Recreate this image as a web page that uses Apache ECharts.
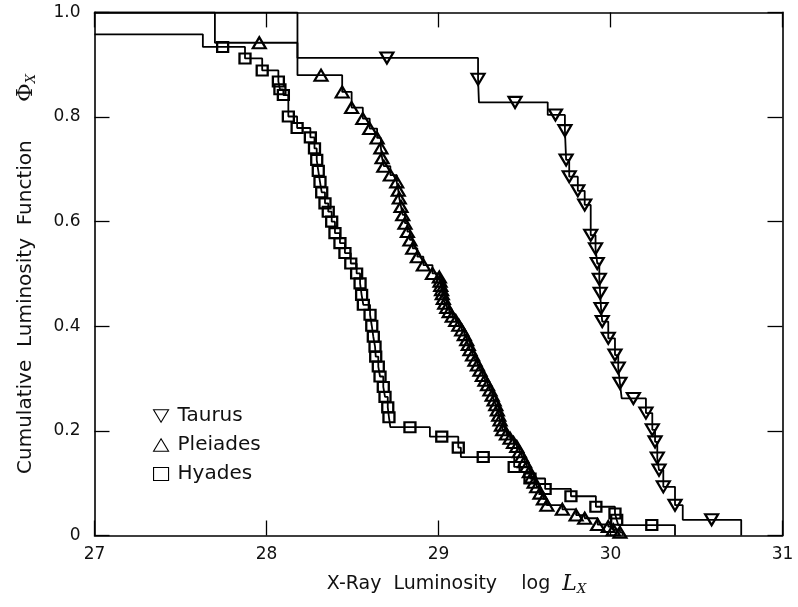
<!DOCTYPE html>
<html><head><meta charset="utf-8">
<script src="https://cdn.jsdelivr.net/npm/echarts@6/dist/echarts.min.js"></script>
<style>html,body{margin:0;padding:0;background:#fff}#c{width:798px;height:607px}</style>
</head><body><div id="c"></div>
<script>
const xTickLabels = ['27', '28', '29', '30', '31'];
const yTickLabels = ['0', '0.2', '0.4', '0.6', '0.8', '1.0'];
const seriesNames = ['Taurus', 'Pleiades', 'Hyades'];

// detections (plotted markers)
const taurusMarks = [
  [28.70,0.913],[29.23,0.872],[29.445,0.828],[29.68,0.804],[29.735,0.774],[29.742,0.718],[29.76,0.686],
  [29.81,0.659],[29.85,0.632],[29.885,0.574],[29.913,0.548],[29.923,0.520],[29.935,0.490],[29.94,0.463],
  [29.945,0.434],[29.952,0.409],[29.987,0.377],[30.026,0.345],[30.045,0.320],[30.055,0.291],[30.133,0.262],
  [30.206,0.234],[30.243,0.202],[30.259,0.179],[30.272,0.148],[30.282,0.125],[30.307,0.093],[30.375,0.058],
  [30.588,0.030]
];
// extra corners of the step curve (no marker)
const taurusSteps = [[27.0,1.0],[28.18,0.913],[29.235,0.828],[29.635,0.804],[30.065,0.262],[30.42,0.030],[30.76,0.0]];

const pleiadesMarks = [
  [27.958,0.942],[28.317,0.880],[28.44,0.848],[28.495,0.818],[28.56,0.797],[28.60,0.778],[28.643,0.760],
  [28.665,0.741],[28.672,0.722],[28.682,0.706],[28.72,0.689],[28.757,0.676],[28.766,0.660],[28.772,0.645],
  [28.782,0.629],[28.792,0.613],[28.805,0.597],[28.819,0.581],[28.834,0.565],[28.85,0.549],[28.877,0.533],
  [28.912,0.517],[28.965,0.501],[29.005,0.494],[29.009,0.486],[29.013,0.478],[29.018,0.470],[29.022,0.462],
  [29.028,0.453],[29.036,0.444],[29.048,0.436],[29.062,0.428],[29.08,0.419],[29.10,0.411],[29.118,0.402],
  [29.135,0.393],[29.15,0.384],[29.164,0.374],[29.173,0.365],[29.183,0.355],[29.198,0.345],[29.212,0.335],
  [29.226,0.326],[29.241,0.316],[29.255,0.306],[29.27,0.297],[29.285,0.288],[29.299,0.278],[29.312,0.268],
  [29.323,0.259],[29.333,0.250],[29.342,0.240],[29.35,0.230],[29.358,0.221],[29.366,0.211],[29.373,0.202],
  [29.395,0.194],[29.416,0.186],[29.436,0.178],[29.455,0.170],[29.47,0.160],[29.484,0.151],[29.50,0.141],
  [29.513,0.132],[29.528,0.122],[29.542,0.112],[29.556,0.102],[29.571,0.093],[29.59,0.081],[29.61,0.070],
  [29.63,0.058],[29.72,0.050],[29.80,0.039],[29.85,0.033],[29.925,0.021],[29.987,0.017],[30.016,0.011],
  [30.055,0.006]
];
const pleiadesSteps = [[27.0,1.0],[27.70,0.942],[28.18,0.880],[30.07,0.0]];

const hyadesMarks = [
  [27.745,0.934],[27.875,0.912],[27.975,0.889],[28.069,0.868],[28.078,0.853],[28.098,0.842],[28.127,0.801],
  [28.178,0.779],[28.255,0.761],[28.279,0.740],[28.292,0.718],[28.301,0.697],[28.311,0.676],[28.321,0.656],
  [28.34,0.635],[28.359,0.619],[28.379,0.600],[28.398,0.578],[28.427,0.559],[28.456,0.540],[28.49,0.520],
  [28.524,0.501],[28.544,0.482],[28.553,0.460],[28.563,0.441],[28.602,0.422],[28.612,0.401],[28.621,0.380],
  [28.631,0.361],[28.635,0.342],[28.65,0.323],[28.66,0.304],[28.679,0.284],[28.689,0.265],[28.705,0.245],
  [28.712,0.226],[28.834,0.207],[29.019,0.189],[29.115,0.168],[29.26,0.150],[29.44,0.131],[29.532,0.109],
  [29.62,0.089],[29.77,0.075],[29.915,0.055],[30.026,0.042],[30.036,0.030],[30.24,0.020]
];
const hyadesSteps = [[27.0,0.958],[27.63,0.934],[28.72,0.207],[28.95,0.189],[29.13,0.150],[30.045,0.020],[30.375,0.0]];

const triDown = 'path://M0,0L12,0L6,10Z';
const triUp = 'path://M6,0L12,10L0,10Z';

function build(marks, steps) {
  const pts = marks.map(p => ({ value: p })).concat(steps.map(p => ({ value: p, symbol: 'none' })));
  pts.sort((a, b) => a.value[0] - b.value[0]);
  return pts;
}

const font = 'DejaVu Sans, Verdana, sans-serif';
const serif = 'DejaVu Serif, Liberation Serif, serif';
const sym = [triDown, triUp, 'rect'];
const symSize = [[13, 11], [13, 11], [11, 10]];
const datas = [build(taurusMarks, taurusSteps), build(pleiadesMarks, pleiadesSteps), build(hyadesMarks, hyadesSteps)];

const chart = echarts.init(document.getElementById('c'), null, { renderer: 'canvas' });
const axisCommon = {
  axisLine: { show: true, onZero: false, lineStyle: { color: '#000', width: 1.6 } },
  axisTick: { show: true, inside: true, length: 15, lineStyle: { color: '#000', width: 1.3 } },
  splitLine: { show: false }
};
chart.setOption({
  animation: false,
  backgroundColor: '#fff',
  grid: { left: 94.5, right: 15.5, top: 12.4, bottom: 71.5, containLabel: false },
  legend: {
    orient: 'vertical', left: 148, top: 401, itemGap: 9, itemWidth: 15, itemHeight: 13,
    textStyle: { fontFamily: font, fontSize: 20, color: '#111', padding: [0, 0, 0, 4] },
    itemStyle: { color: 'transparent', borderColor: '#000', borderWidth: 1.1 },
    data: seriesNames.map((n, i) => ({ name: n, icon: sym[i] }))
  },
  xAxis: [
    Object.assign({
      type: 'value', min: 27, max: 31, interval: 1, position: 'bottom',
      axisLabel: { fontFamily: font, fontSize: 17, color: '#111', margin: 11,
        formatter: v => xTickLabels[Math.round(v - 27)] },
      name: '{t|X-Ray  Luminosity    log  }{it|L}{sub|X}', nameLocation: 'middle', nameGap: 36,
      nameTextStyle: { padding: [0, 0, 0, 36], rich: {
        t: { fontFamily: font, fontSize: 19, color: '#111' },
        it: { fontFamily: serif, fontStyle: 'italic', fontSize: 22, color: '#111' },
        sub: { fontFamily: serif, fontStyle: 'italic', fontSize: 13, color: '#111', padding: [12, 0, 0, 0] }
      } }
    }, axisCommon),
    Object.assign({ type: 'value', min: 27, max: 31, interval: 1, position: 'top', axisLabel: { show: false } }, axisCommon)
  ],
  yAxis: [
    Object.assign({
      type: 'value', min: 0, max: 1, interval: 0.2, position: 'left',
      axisLabel: { fontFamily: font, fontSize: 17, color: '#111', margin: 14,
        formatter: v => yTickLabels[Math.round(v * 5)] },
      name: '{t|Cumulative  Luminosity  Function      }{phi|Φ}{sub|X}', nameLocation: 'middle', nameGap: 56, nameRotate: 90,
      nameTextStyle: { rich: {
        t: { fontFamily: font, fontSize: 20, color: '#111' },
        phi: { fontFamily: serif, fontSize: 23, color: '#111' },
        sub: { fontFamily: serif, fontStyle: 'italic', fontSize: 13, color: '#111', padding: [12, 0, 0, 0] }
      } }
    }, axisCommon),
    Object.assign({ type: 'value', min: 0, max: 1, interval: 0.2, position: 'right', axisLabel: { show: false } }, axisCommon)
  ],
  series: seriesNames.map((n, i) => ({
    name: n, type: 'line', step: 'end', data: datas[i],
    symbol: sym[i], symbolSize: symSize[i], showAllSymbol: true,
    lineStyle: { color: '#000', width: 1.8 },
    itemStyle: { color: 'transparent', borderColor: '#000', borderWidth: 2.2 },
    emphasis: { disabled: true }
  }))
});
</script></body></html>
